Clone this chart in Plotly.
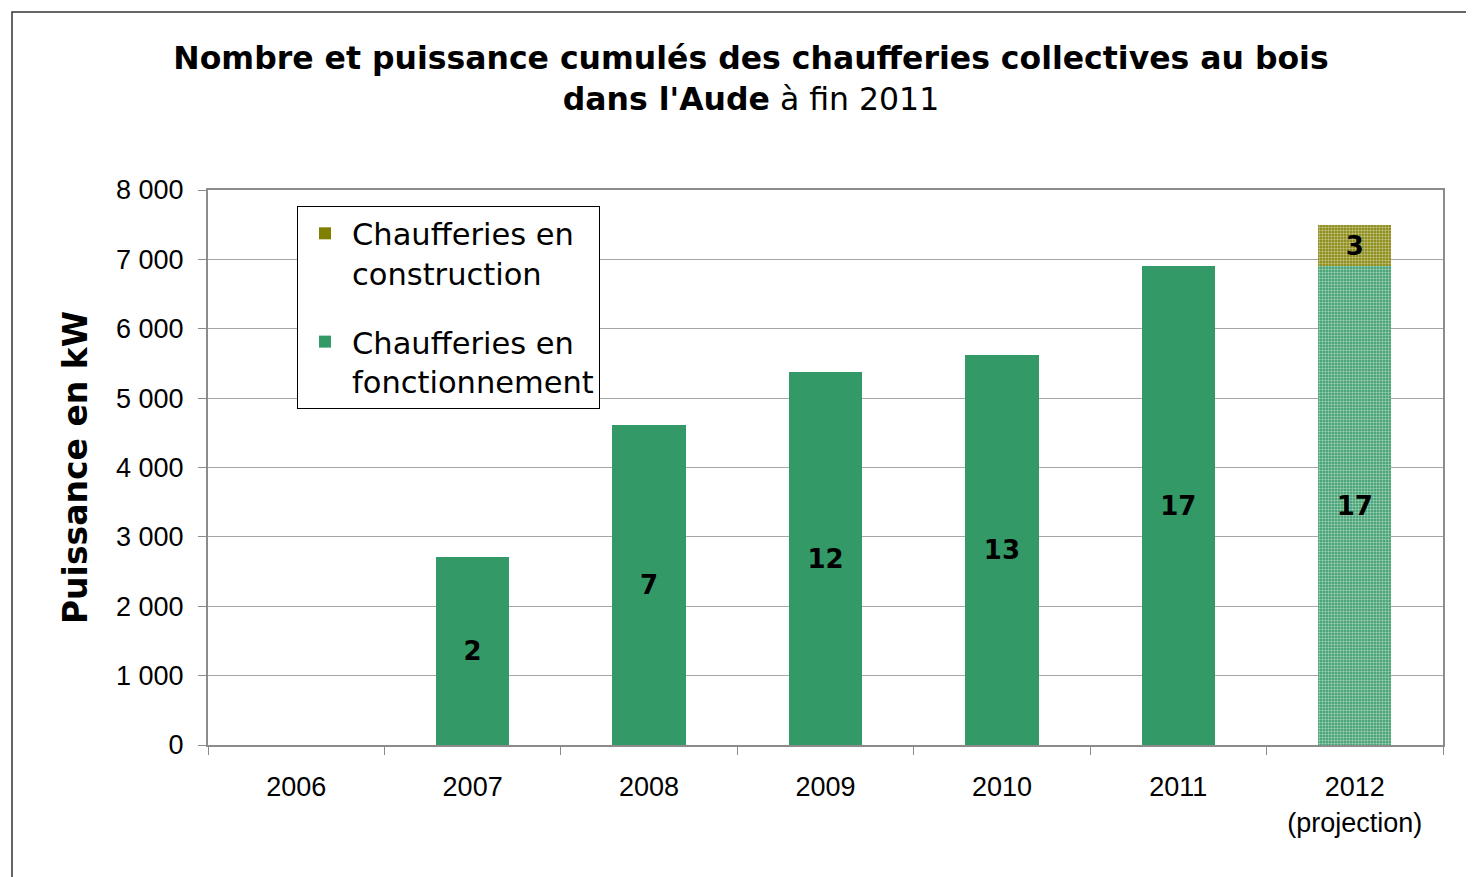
import plotly.graph_objects as go

years = ["2006", "2007", "2008", "2009", "2010", "2011", "2012<br>(projection)"]
puissance_fonct = [None, 2710, 4610, 5375, 5620, 6900, 6900]
nombre_fonct = ["", "2", "7", "12", "13", "17", "17"]
puissance_constr = [None, None, None, None, None, None, 600]
nombre_constr = ["", "", "", "", "", "", "3"]

green = "#339966"
olive = "#808000"
proj_shapes = ["", "", "", "", "", "", "."]

W, H = 1474, 877
OFF = 8  # page body margin
L, R, T, B = 208 - OFF, 1443 - OFF, 190 - OFF, 745 - OFF

fig = go.Figure()
fig.add_trace(go.Bar(
    x=years, y=puissance_fonct, name="Chaufferies en<br>fonctionnement",
    legendgroup="f", legendrank=2,
    text=nombre_fonct, textposition="inside", insidetextanchor="middle",
    constraintext="none", textangle=0,
    textfont=dict(family="DejaVu Sans", size=26, color="black", weight="bold"),
    marker=dict(color=green, line=dict(width=0),
                pattern=dict(shape=proj_shapes, fgcolor="white", size=3, solidity=0.5)),
))
fig.add_trace(go.Bar(
    x=years, y=puissance_constr, name="Chaufferies en<br>construction",
    legendgroup="c", legendrank=1,
    text=nombre_constr, textposition="inside", insidetextanchor="middle",
    constraintext="none", textangle=0,
    textfont=dict(family="DejaVu Sans", size=26, color="black", weight="bold"),
    marker=dict(color=olive, line=dict(width=0),
                pattern=dict(shape=proj_shapes, fgcolor="white", size=3, solidity=0.5)),
))

fig.update_layout(
    width=W, height=H,
    margin=dict(l=L, r=W - R, t=T, b=H - B, pad=0),
    barmode="stack", bargap=0.585,
    paper_bgcolor="white", plot_bgcolor="white",
    separators=", ",
    title=dict(
        text="<b>Nombre et puissance cumulés des chaufferies collectives au bois</b><br><b>dans l'Aude</b> à fin 2011",
        x=(751 - OFF) / W, xanchor="center", xref="container",
        y=1 - (69 - OFF) / H, yanchor="top", yref="container",
        font=dict(family="DejaVu Sans", size=31.5, color="black"),
    ),
    legend=dict(
        x=(297 - 208) / (R - L), y=(745 - 206) / (B - T), xanchor="left", yanchor="top",
        bgcolor="white", bordercolor="black", borderwidth=1,
        font=dict(family="DejaVu Sans", size=30.5, color="black"),
        traceorder="grouped", valign="top", tracegroupgap=26,
        itemwidth=44,
    ),
    showlegend=True,
    xaxis=dict(
        type="category", showline=True, linecolor="#8c8c8c", linewidth=2, mirror=True,
        ticks="outside", tickson="boundaries", ticklen=8, tickcolor="#8c8c8c",
        tickfont=dict(family="Liberation Sans", size=27, color="black"),
        ticklabelstandoff=17,
        showgrid=False,
    ),
    yaxis=dict(
        range=[0, 8000], dtick=1000, tickformat=",d",
        showline=True, linecolor="#8c8c8c", linewidth=2, mirror=True,
        ticks="outside", ticklen=8, tickcolor="#8c8c8c",
        tickfont=dict(family="Liberation Sans", size=27, color="black"),
        ticklabelstandoff=9,
        gridcolor="#a6a6a6", gridwidth=1, zeroline=False,
        title=dict(text="<b>Puissance en kW</b>", standoff=18,
                   font=dict(family="DejaVu Sans", size=33, color="black")),
    ),
)

# outer chart frame
fig.add_shape(type="rect", xref="paper", yref="paper",
              x0=(12 - 208) / (R - L), x1=(1490 - 208) / (R - L),
              y0=(745 - 900) / (B - T), y1=(745 - 12) / (B - T),
              line=dict(color="#333333", width=1.5), fillcolor="rgba(0,0,0,0)", layer="below")

fig.write_html("out.html")
